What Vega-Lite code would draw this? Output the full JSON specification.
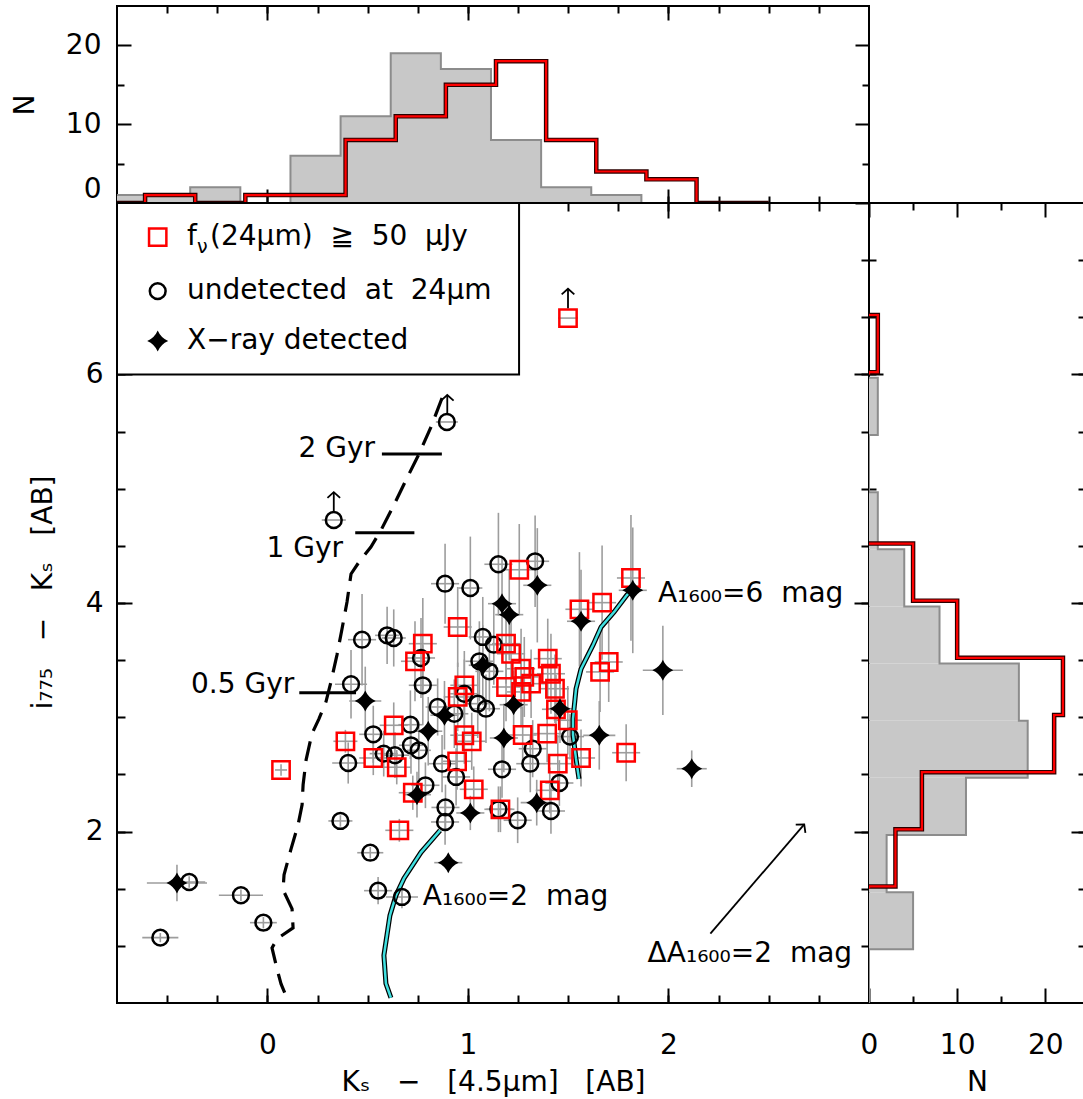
{
  "$schema": "https://vega.github.io/schema/vega-lite/v6.json",
  "padding": {"left": 10, "top": 4, "right": 0, "bottom": 0},
  "autosize": {"type": "pad"},
  "config": {
    "font": "DejaVu Sans",
    "view": {"stroke": "black", "strokeWidth": 2},
    "axis": {"grid": false, "domain": false, "tickColor": "black", "tickWidth": 2, "labelFontSize": 28, "labelColor": "black", "titleFontSize": 28, "titleFontWeight": "normal", "titleColor": "black"}
  },
  "datasets": {
    "pts": [
      {"t":"c","x":0.331,"y":4.726,"xe":0.06,"ye":0},
      {"t":"c","x":0.895,"y":5.584,"xe":0.055,"ye":0},
      {"t":"c","x":0.472,"y":3.679,"xe":0.07,"ye":0.4},
      {"t":"c","x":0.597,"y":3.717,"xe":0.06,"ye":0.25},
      {"t":"c","x":0.630,"y":3.694,"xe":0.06,"ye":0.25},
      {"t":"c","x":0.766,"y":3.519,"xe":0.07,"ye":0.35},
      {"t":"c","x":0.775,"y":3.280,"xe":0.07,"ye":0.35},
      {"t":"c","x":0.417,"y":3.289,"xe":0.08,"ye":0.3},
      {"t":"c","x":0.849,"y":3.090,"xe":0.06,"ye":0.25},
      {"t":"c","x":0.528,"y":2.851,"xe":0.07,"ye":0.25},
      {"t":"c","x":0.403,"y":2.600,"xe":0.08,"ye":0.18},
      {"t":"c","x":0.580,"y":2.682,"xe":0.07,"ye":0.2},
      {"t":"c","x":0.636,"y":2.668,"xe":0.07,"ye":0.2},
      {"t":"c","x":0.713,"y":2.935,"xe":0.06,"ye":0.3},
      {"t":"c","x":0.716,"y":2.755,"xe":0.06,"ye":0.25},
      {"t":"c","x":0.755,"y":2.711,"xe":0.06,"ye":0.25},
      {"t":"c","x":0.788,"y":2.405,"xe":0.07,"ye":0.2},
      {"t":"c","x":0.364,"y":2.093,"xe":0.06,"ye":0.05},
      {"t":"c","x":0.513,"y":1.815,"xe":0.065,"ye":0.05},
      {"t":"c","x":0.552,"y":1.483,"xe":0.07,"ye":0.12},
      {"t":"c","x":0.671,"y":1.428,"xe":0.08,"ye":0.1},
      {"t":"c","x":-0.132,"y":1.443,"xe":0.11,"ye":0.05},
      {"t":"c","x":-0.390,"y":1.559,"xe":0.08,"ye":0.05},
      {"t":"c","x":-0.020,"y":1.203,"xe":0.067,"ye":0.05},
      {"t":"c","x":-0.534,"y":1.072,"xe":0.09,"ye":0.04},
      {"t":"c","x":0.886,"y":4.169,"xe":0.07,"ye":0.35},
      {"t":"c","x":1.012,"y":4.131,"xe":0.06,"ye":0.45},
      {"t":"c","x":1.152,"y":4.339,"xe":0.07,"ye":0.45},
      {"t":"c","x":1.335,"y":4.365,"xe":0.07,"ye":0.4},
      {"t":"c","x":1.074,"y":3.703,"xe":0.07,"ye":0.35},
      {"t":"c","x":1.129,"y":3.635,"xe":0.07,"ye":0.35},
      {"t":"c","x":1.057,"y":3.490,"xe":0.07,"ye":0.35},
      {"t":"c","x":1.107,"y":3.402,"xe":0.07,"ye":0.35},
      {"t":"c","x":0.982,"y":3.206,"xe":0.07,"ye":0.3},
      {"t":"c","x":1.049,"y":3.119,"xe":0.07,"ye":0.3},
      {"t":"c","x":1.090,"y":3.075,"xe":0.07,"ye":0.3},
      {"t":"c","x":0.932,"y":3.031,"xe":0.07,"ye":0.3},
      {"t":"c","x":0.871,"y":2.594,"xe":0.07,"ye":0.25},
      {"t":"c","x":0.941,"y":2.478,"xe":0.07,"ye":0.25},
      {"t":"c","x":0.888,"y":2.211,"xe":0.07,"ye":0.2},
      {"t":"c","x":0.886,"y":2.084,"xe":0.07,"ye":0.2},
      {"t":"c","x":1.323,"y":2.725,"xe":0.07,"ye":0.25},
      {"t":"c","x":1.311,"y":2.594,"xe":0.07,"ye":0.25},
      {"t":"c","x":1.170,"y":2.545,"xe":0.07,"ye":0.25},
      {"t":"c","x":1.248,"y":2.099,"xe":0.07,"ye":0.2},
      {"t":"c","x":1.152,"y":2.195,"xe":0.07,"ye":0.2},
      {"t":"c","x":1.509,"y":2.831,"xe":0.07,"ye":0.2},
      {"t":"c","x":1.456,"y":2.425,"xe":0.07,"ye":0.2},
      {"t":"c","x":1.414,"y":2.180,"xe":0.07,"ye":0.2},
      {"t":"r","x":0.068,"y":2.539,"xe":0.03,"ye":0.05},
      {"t":"r","x":0.389,"y":2.790,"xe":0.06,"ye":0.1},
      {"t":"r","x":0.528,"y":2.644,"xe":0.07,"ye":0.15},
      {"t":"r","x":0.645,"y":2.563,"xe":0.07,"ye":0.15},
      {"t":"r","x":0.630,"y":2.930,"xe":0.07,"ye":0.2},
      {"t":"r","x":0.725,"y":2.340,"xe":0.07,"ye":0.15},
      {"t":"r","x":0.658,"y":2.011,"xe":0.07,"ye":0.1},
      {"t":"r","x":0.775,"y":3.644,"xe":0.07,"ye":0.4},
      {"t":"r","x":0.736,"y":3.490,"xe":0.07,"ye":0.35},
      {"t":"r","x":0.949,"y":3.790,"xe":0.07,"ye":0.35},
      {"t":"r","x":1.190,"y":3.644,"xe":0.07,"ye":0.35},
      {"t":"r","x":1.215,"y":3.556,"xe":0.07,"ye":0.35},
      {"t":"r","x":1.265,"y":3.425,"xe":0.07,"ye":0.35},
      {"t":"r","x":1.281,"y":3.353,"xe":0.07,"ye":0.35},
      {"t":"r","x":1.190,"y":3.265,"xe":0.07,"ye":0.3},
      {"t":"r","x":1.315,"y":3.294,"xe":0.07,"ye":0.3},
      {"t":"r","x":1.265,"y":3.222,"xe":0.07,"ye":0.3},
      {"t":"r","x":0.982,"y":3.280,"xe":0.07,"ye":0.3},
      {"t":"r","x":0.949,"y":3.178,"xe":0.07,"ye":0.3},
      {"t":"r","x":1.256,"y":4.291,"xe":0.07,"ye":0.4},
      {"t":"r","x":1.273,"y":2.845,"xe":0.07,"ye":0.25},
      {"t":"r","x":0.946,"y":2.615,"xe":0.07,"ye":0.25},
      {"t":"r","x":0.982,"y":2.843,"xe":0.07,"ye":0.25},
      {"t":"r","x":1.019,"y":2.790,"xe":0.07,"ye":0.25},
      {"t":"r","x":1.029,"y":2.370,"xe":0.07,"ye":0.2},
      {"t":"r","x":1.162,"y":2.195,"xe":0.07,"ye":0.2},
      {"t":"r","x":1.813,"y":4.219,"xe":0.07,"ye":0.55},
      {"t":"r","x":1.556,"y":3.945,"xe":0.07,"ye":0.5},
      {"t":"r","x":1.669,"y":4.003,"xe":0.07,"ye":0.5},
      {"t":"r","x":1.398,"y":3.513,"xe":0.07,"ye":0.35},
      {"t":"r","x":1.414,"y":3.381,"xe":0.07,"ye":0.35},
      {"t":"r","x":1.702,"y":3.484,"xe":0.07,"ye":0.35},
      {"t":"r","x":1.659,"y":3.397,"xe":0.07,"ye":0.35},
      {"t":"r","x":1.434,"y":3.250,"xe":0.07,"ye":0.3},
      {"t":"r","x":1.439,"y":3.070,"xe":0.07,"ye":0.3},
      {"t":"r","x":1.498,"y":2.974,"xe":0.07,"ye":0.3},
      {"t":"r","x":1.395,"y":2.857,"xe":0.07,"ye":0.25},
      {"t":"r","x":1.448,"y":2.594,"xe":0.07,"ye":0.25},
      {"t":"r","x":1.564,"y":2.644,"xe":0.07,"ye":0.25},
      {"t":"r","x":1.789,"y":2.690,"xe":0.07,"ye":0.25},
      {"t":"r","x":1.408,"y":2.361,"xe":0.07,"ye":0.2},
      {"t":"r","x":1.499,"y":6.493,"xe":0.05,"ye":0},
      {"t":"s","x":0.488,"y":3.143,"xe":0.08,"ye":0.3},
      {"t":"s","x":0.746,"y":2.323,"xe":0.07,"ye":0.2},
      {"t":"s","x":0.802,"y":2.878,"xe":0.07,"ye":0.3},
      {"t":"s","x":-0.451,"y":1.550,"xe":0.15,"ye":0.16},
      {"t":"s","x":0.902,"y":1.728,"xe":0.07,"ye":0.05},
      {"t":"s","x":1.346,"y":4.155,"xe":0.07,"ye":0.5},
      {"t":"s","x":1.170,"y":3.994,"xe":0.07,"ye":0.4},
      {"t":"s","x":1.206,"y":3.898,"xe":0.07,"ye":0.4},
      {"t":"s","x":1.074,"y":3.455,"xe":0.07,"ye":0.35},
      {"t":"s","x":1.228,"y":3.110,"xe":0.07,"ye":0.3},
      {"t":"s","x":0.883,"y":3.018,"xe":0.07,"ye":0.3},
      {"t":"s","x":1.179,"y":2.819,"xe":0.07,"ye":0.3},
      {"t":"s","x":1.343,"y":2.253,"xe":0.08,"ye":0.2},
      {"t":"s","x":1.012,"y":2.163,"xe":0.07,"ye":0.15},
      {"t":"s","x":1.822,"y":4.111,"xe":0.07,"ye":0.55},
      {"t":"s","x":1.564,"y":3.840,"xe":0.07,"ye":0.45},
      {"t":"s","x":1.972,"y":3.411,"xe":0.1,"ye":0.39},
      {"t":"s","x":1.459,"y":3.075,"xe":0.07,"ye":0.3},
      {"t":"s","x":1.655,"y":2.842,"xe":0.08,"ye":0.3},
      {"t":"s","x":2.116,"y":2.550,"xe":0.075,"ye":0.16}
    ],
    "track": [
      {"o":1,"x":0.871,"y":5.794},{"o":2,"x":0.816,"y":5.540},{"o":3,"x":0.756,"y":5.304},{"o":4,"x":0.691,"y":5.075},
      {"o":5,"x":0.626,"y":4.840},{"o":6,"x":0.567,"y":4.639},{"o":7,"x":0.516,"y":4.490},{"o":8,"x":0.457,"y":4.359},
      {"o":9,"x":0.417,"y":4.254},{"o":10,"x":0.397,"y":4.009},{"o":11,"x":0.372,"y":3.773},{"o":12,"x":0.347,"y":3.546},
      {"o":13,"x":0.317,"y":3.310},{"o":14,"x":0.292,"y":3.135},{"o":15,"x":0.257,"y":2.986},{"o":16,"x":0.222,"y":2.855},
      {"o":17,"x":0.193,"y":2.628},{"o":18,"x":0.178,"y":2.409},{"o":19,"x":0.173,"y":2.234},{"o":20,"x":0.153,"y":2.059},
      {"o":21,"x":0.118,"y":1.849},{"o":22,"x":0.083,"y":1.622},{"o":23,"x":0.078,"y":1.490},{"o":24,"x":0.123,"y":1.324},
      {"o":25,"x":0.128,"y":1.157},{"o":26,"x":0.048,"y":1.061},{"o":27,"x":0.023,"y":0.982},{"o":28,"x":0.048,"y":0.798},
      {"o":29,"x":0.068,"y":0.667},{"o":30,"x":0.103,"y":0.518}
    ],
    "av": [
      {"g":"a6","o":1,"x":1.818,"y":4.114},{"g":"a6","o":2,"x":1.793,"y":4.070},{"g":"a6","o":3,"x":1.729,"y":3.922},
      {"g":"a6","o":4,"x":1.664,"y":3.790},{"g":"a6","o":5,"x":1.624,"y":3.633},{"g":"a6","o":6,"x":1.564,"y":3.423},
      {"g":"a6","o":7,"x":1.539,"y":3.248},{"g":"a6","o":8,"x":1.524,"y":2.986},{"g":"a6","o":9,"x":1.524,"y":2.846},
      {"g":"a6","o":10,"x":1.539,"y":2.636},{"g":"a6","o":11,"x":1.554,"y":2.461},
      {"g":"a2","o":1,"x":0.861,"y":2.010},{"g":"a2","o":2,"x":0.766,"y":1.818},{"g":"a2","o":3,"x":0.681,"y":1.590},
      {"g":"a2","o":4,"x":0.641,"y":1.441},{"g":"a2","o":5,"x":0.611,"y":1.266},{"g":"a2","o":6,"x":0.596,"y":1.091},
      {"g":"a2","o":7,"x":0.581,"y":0.916},{"g":"a2","o":8,"x":0.591,"y":0.671},{"g":"a2","o":9,"x":0.616,"y":0.546}
    ],
    "ages": [
      {"x":0.571,"x2":0.870,"y":5.304},
      {"x":0.438,"x2":0.733,"y":4.615},
      {"x":0.159,"x2":0.442,"y":3.215}
    ],
    "labR": [
      {"x":0.537,"y":5.347,"s":"2 Gyr"},
      {"x":0.377,"y":4.472,"s":"1 Gyr"},
      {"x":0.134,"y":3.280,"s":"0.5 Gyr"}
    ],
    "labL": [
      {"x":1.948,"y":4.079,"s":"A₁₆₀₀=6\u00a0 mag"},
      {"x":0.775,"y":1.428,"s":"A₁₆₀₀=2\u00a0 mag"},
      {"x":1.896,"y":0.932,"s":"ΔA₁₆₀₀=2\u00a0 mag"},
      {"x":-0.401,"y":7.202,"s":"f"},
      {"x":-0.286,"y":7.202,"s":"(24μm)\u00a0 ≧\u00a0 50\u00a0 μJy"},
      {"x":-0.401,"y":6.729,"s":"undetected\u00a0 at\u00a0 24μm"},
      {"x":-0.401,"y":6.292,"s":"X−ray detected"}
    ],
    "labS": [{"x":-0.351,"y":7.115,"s":"ν"}],
    "legbox": [{"x":-0.75,"x2":1.255,"y":6.0,"y2":7.5}],
    "legsym": [
      {"t":"r","x":-0.547,"y":7.202},
      {"t":"c","x":-0.547,"y":6.729},
      {"t":"s","x":-0.547,"y":6.292}
    ],
    "shafts": [
      {"x":0.331,"y":4.80,"y2":4.97},
      {"x":0.897,"y":5.65,"y2":5.82},
      {"x":1.499,"y":6.58,"y2":6.75}
    ],
    "heads": [
      {"x":0.331,"y":4.97,"a":0},
      {"x":0.897,"y":5.82,"a":0},
      {"x":1.499,"y":6.75,"a":0},
      {"x":2.677,"y":2.063,"a":40}
    ],
    "darrow": [{"x":2.209,"y":1.107,"x2":2.677,"y2":2.063}],
    "topGray": [
      {"e":-0.885,"n":1},{"e":-0.635,"n":1},{"e":-0.385,"n":2},{"e":-0.135,"n":0},{"e":0.115,"n":6},
      {"e":0.365,"n":11},{"e":0.615,"n":19},{"e":0.865,"n":17},{"e":1.115,"n":8},{"e":1.365,"n":2},
      {"e":1.615,"n":1},{"e":1.865,"n":0}
    ],
    "topRed": [
      {"e":-0.86,"n":0},{"e":-0.61,"n":1},{"e":-0.36,"n":0},{"e":-0.11,"n":1},{"e":0.14,"n":1},
      {"e":0.39,"n":8},{"e":0.64,"n":11},{"e":0.89,"n":15},{"e":1.14,"n":18},{"e":1.39,"n":8},
      {"e":1.64,"n":4},{"e":1.89,"n":3},{"e":2.14,"n":0},{"e":2.5,"n":0}
    ],
    "rightGray": [
      {"e":0.5,"h":0.97,"n":0},{"e":0.97,"h":1.47,"n":5},{"e":1.47,"h":1.97,"n":2},{"e":1.97,"h":2.47,"n":11},
      {"e":2.47,"h":2.97,"n":18},{"e":2.97,"h":3.47,"n":17},{"e":3.47,"h":3.97,"n":8},{"e":3.97,"h":4.47,"n":4},
      {"e":4.47,"h":4.97,"n":1},{"e":4.97,"h":5.47,"n":0},{"e":5.47,"h":5.97,"n":1},{"e":5.97,"h":5.97,"n":0}
    ],
    "rightRed": [
      {"g":"a","e":1.5,"n":0},{"g":"a","e":1.52,"n":3},{"g":"a","e":2.02,"n":6},{"g":"a","e":2.52,"n":21},
      {"g":"a","e":3.02,"n":22},{"g":"a","e":3.52,"n":10},{"g":"a","e":4.02,"n":5},{"g":"a","e":4.52,"n":0},
      {"g":"b","e":6.0,"n":0},{"g":"b","e":6.02,"n":1},{"g":"b","e":6.52,"n":0}
    ]
  },
  "spacing": 0,
  "bounds": "flush",
  "vconcat": [
    {
      "width": 752,
      "height": 197,
      "resolve": {"axis": {"x": "independent", "y": "independent"}},
      "layer": [
        {
          "data": {"name": "topGray"},
          "mark": {"type": "area", "interpolate": "step-after", "color": "#c8c8c8", "opacity": 1, "clip": true},
          "encoding": {
            "x": {"field": "e", "type": "quantitative", "scale": {"domain": [-0.75, 3], "nice": false, "zero": false}, "axis": {"orient": "bottom", "values": [0, 1, 2], "tickSize": -14, "labels": false, "title": null}},
            "y": {"field": "n", "type": "quantitative", "scale": {"domain": [0, 25], "nice": false}, "axis": {"orient": "left", "values": [0, 10, 20], "tickSize": -14, "labelPadding": 30, "labelFlush": true, "title": "N", "titlePadding": 26}}
          }
        },
        {
          "data": {"name": "topGray"},
          "mark": {"type": "line", "interpolate": "step-after", "color": "#8c8c8c", "strokeWidth": 2, "clip": true},
          "encoding": {
            "x": {"field": "e", "type": "quantitative", "scale": {"domain": [-0.75, 3], "nice": false, "zero": false}, "axis": {"orient": "bottom", "values": [-0.5,-0.25,0,0.25,0.5,0.75,1,1.25,1.5,1.75,2,2.25,2.5,2.75], "tickSize": -7, "labels": false, "title": null}},
            "y": {"field": "n", "type": "quantitative", "scale": {"domain": [0, 25], "nice": false}, "axis": {"orient": "left", "values": [5, 15], "tickSize": -7, "labels": false, "title": null}}
          }
        },
        {
          "data": {"name": "topRed"},
          "mark": {"type": "line", "interpolate": "step-after", "color": "#2a0000", "strokeWidth": 4.5, "clip": true},
          "encoding": {
            "x": {"field": "e", "type": "quantitative", "scale": {"domain": [-0.75, 3], "nice": false, "zero": false}, "axis": {"orient": "top", "values": [0, 1, 2], "tickSize": -14, "labels": false, "title": null}},
            "y": {"field": "n", "type": "quantitative", "scale": {"domain": [0, 25], "nice": false}, "axis": {"orient": "right", "values": [0, 10, 20], "tickSize": -14, "labels": false, "title": null}}
          }
        },
        {
          "data": {"name": "topRed"},
          "mark": {"type": "line", "interpolate": "step-after", "color": "#ff0000", "strokeWidth": 2.2, "clip": true},
          "encoding": {
            "x": {"field": "e", "type": "quantitative", "scale": {"domain": [-0.75, 3], "nice": false, "zero": false}, "axis": {"orient": "top", "values": [-0.5,-0.25,0,0.25,0.5,0.75,1,1.25,1.5,1.75,2,2.25,2.5,2.75], "tickSize": -7, "labels": false, "title": null}},
            "y": {"field": "n", "type": "quantitative", "scale": {"domain": [0, 25], "nice": false}, "axis": {"orient": "right", "values": [5, 15], "tickSize": -7, "labels": false, "title": null}}
          }
        }
      ]
    },
    {
      "spacing": 0,
      "bounds": "flush",
      "hconcat": [
        {
          "width": 752,
          "height": 800,
          "resolve": {"axis": {"x": "independent", "y": "independent"}},
          "layer": [
            {
              "data": {"name": "legbox"},
              "mark": {"type": "rect", "fill": "white", "stroke": "black", "strokeWidth": 2},
              "encoding": {
                "x": {"field": "x", "type": "quantitative", "scale": {"domain": [-0.75, 3], "nice": false, "zero": false}, "axis": null},
                "x2": {"field": "x2"},
                "y": {"field": "y", "type": "quantitative", "scale": {"domain": [0.5, 7.5], "nice": false, "zero": false}, "axis": null},
                "y2": {"field": "y2"}
              }
            },
            {
              "data": {"name": "pts"},
              "mark": {"type": "errorbar", "color": "#9d9d9d", "thickness": 1.6},
              "encoding": {
                "x": {"field": "x", "type": "quantitative", "scale": {"domain": [-0.75, 3], "nice": false, "zero": false}, "axis": null},
                "xError": {"field": "xe"},
                "y": {"field": "y", "type": "quantitative", "scale": {"domain": [0.5, 7.5], "nice": false, "zero": false}, "axis": null}
              }
            },
            {
              "data": {"name": "pts"},
              "mark": {"type": "errorbar", "color": "#9d9d9d", "thickness": 1.6},
              "encoding": {
                "y": {"field": "y", "type": "quantitative", "scale": {"domain": [0.5, 7.5], "nice": false, "zero": false}, "axis": null},
                "yError": {"field": "ye"},
                "x": {"field": "x", "type": "quantitative", "scale": {"domain": [-0.75, 3], "nice": false, "zero": false}, "axis": null}
              }
            },
            {
              "data": {"name": "track"},
              "mark": {"type": "line", "color": "black", "strokeWidth": 3.2, "strokeDash": [20, 11], "clip": true},
              "encoding": {
                "x": {"field": "x", "type": "quantitative", "scale": {"domain": [-0.75, 3], "nice": false, "zero": false}, "axis": {"orient": "top", "values": [0, 1, 2], "tickSize": -15, "labels": false, "title": null}},
                "y": {"field": "y", "type": "quantitative", "scale": {"domain": [0.5, 7.5], "nice": false, "zero": false}, "axis": {"orient": "right", "values": [2, 4, 6], "tickSize": -15, "labels": false, "title": null}},
                "order": {"field": "o"}
              }
            },
            {
              "data": {"name": "ages"},
              "mark": {"type": "rule", "color": "black", "strokeWidth": 3},
              "encoding": {
                "x": {"field": "x", "type": "quantitative", "scale": {"domain": [-0.75, 3], "nice": false, "zero": false}, "axis": null},
                "x2": {"field": "x2"},
                "y": {"field": "y", "type": "quantitative", "scale": {"domain": [0.5, 7.5], "nice": false, "zero": false}, "axis": null}
              }
            },
            {
              "data": {"name": "av"},
              "mark": {"type": "line", "color": "black", "strokeWidth": 5, "clip": true},
              "encoding": {
                "x": {"field": "x", "type": "quantitative", "scale": {"domain": [-0.75, 3], "nice": false, "zero": false}, "axis": {"orient": "top", "values": [-0.5,-0.25,0,0.25,0.5,0.75,1,1.25,1.5,1.75,2,2.25,2.5,2.75], "tickSize": -8, "labels": false, "title": null}},
                "y": {"field": "y", "type": "quantitative", "scale": {"domain": [0.5, 7.5], "nice": false, "zero": false}, "axis": {"orient": "right", "values": [1,1.5,2,2.5,3,3.5,4,4.5,5,5.5,6,6.5,7], "tickSize": -8, "labels": false, "title": null}},
                "detail": {"field": "g"},
                "order": {"field": "o"}
              }
            },
            {
              "data": {"name": "av"},
              "mark": {"type": "line", "color": "#40e0e0", "strokeWidth": 2.5, "clip": true},
              "encoding": {
                "x": {"field": "x", "type": "quantitative", "scale": {"domain": [-0.75, 3], "nice": false, "zero": false}, "axis": null},
                "y": {"field": "y", "type": "quantitative", "scale": {"domain": [0.5, 7.5], "nice": false, "zero": false}, "axis": null},
                "detail": {"field": "g"},
                "order": {"field": "o"}
              }
            },
            {
              "data": {"name": "pts"},
              "transform": [{"filter": "datum.t != 's'"}],
              "mark": {"type": "point", "filled": false, "opacity": 1, "strokeWidth": 2.5},
              "encoding": {
                "x": {"field": "x", "type": "quantitative", "scale": {"domain": [-0.75, 3], "nice": false, "zero": false}, "axis": {"orient": "bottom", "values": [0, 1, 2], "tickSize": -15, "labelPadding": 43, "title": "Kₛ\u00a0\u00a0 −\u00a0\u00a0 [4.5μm]\u00a0\u00a0 [AB]", "titlePadding": 9}},
                "y": {"field": "y", "type": "quantitative", "scale": {"domain": [0.5, 7.5], "nice": false, "zero": false}, "axis": {"orient": "left", "values": [2, 4, 6], "tickSize": -15, "labelPadding": 29, "title": "i₇₇₅\u00a0\u00a0 −\u00a0\u00a0 Kₛ\u00a0\u00a0 [AB]", "titleX": -60, "titleY": 389}},
                "shape": {"field": "t", "type": "nominal", "scale": {"domain": ["c", "r"], "range": ["circle", "square"]}, "legend": null},
                "stroke": {"field": "t", "type": "nominal", "scale": {"domain": ["c", "r"], "range": ["#000000", "#ff0000"]}, "legend": null},
                "size": {"field": "t", "type": "nominal", "scale": {"domain": ["c", "r"], "range": [250, 300]}, "legend": null}
              }
            },
            {
              "data": {"name": "pts"},
              "transform": [{"filter": "datum.t == 's'"}],
              "mark": {"type": "point", "filled": true, "opacity": 1, "color": "black", "size": 440, "shape": "M0,-1Q0.3,-0.3,1,0Q0.3,0.3,0,1Q-0.3,0.3,-1,0Q-0.3,-0.3,0,-1Z"},
              "encoding": {
                "x": {"field": "x", "type": "quantitative", "scale": {"domain": [-0.75, 3], "nice": false, "zero": false}, "axis": null},
                "y": {"field": "y", "type": "quantitative", "scale": {"domain": [0.5, 7.5], "nice": false, "zero": false}, "axis": null}
              }
            },
            {
              "data": {"name": "legsym"},
              "transform": [{"filter": "datum.t != 's'"}],
              "mark": {"type": "point", "filled": false, "opacity": 1, "strokeWidth": 2.5},
              "encoding": {
                "x": {"field": "x", "type": "quantitative", "scale": {"domain": [-0.75, 3], "nice": false, "zero": false}, "axis": {"orient": "bottom", "values": [-0.5,-0.25,0,0.25,0.5,0.75,1,1.25,1.5,1.75,2,2.25,2.5,2.75], "tickSize": -8, "labels": false, "title": null}},
                "y": {"field": "y", "type": "quantitative", "scale": {"domain": [0.5, 7.5], "nice": false, "zero": false}, "axis": {"orient": "left", "values": [1,1.5,2,2.5,3,3.5,4,4.5,5,5.5,6,6.5,7], "tickSize": -8, "labels": false, "title": null}},
                "shape": {"field": "t", "type": "nominal", "scale": {"domain": ["c", "r"], "range": ["circle", "square"]}, "legend": null},
                "stroke": {"field": "t", "type": "nominal", "scale": {"domain": ["c", "r"], "range": ["#000000", "#ff0000"]}, "legend": null},
                "size": {"field": "t", "type": "nominal", "scale": {"domain": ["c", "r"], "range": [250, 300]}, "legend": null}
              }
            },
            {
              "data": {"name": "legsym"},
              "transform": [{"filter": "datum.t == 's'"}],
              "mark": {"type": "point", "filled": true, "opacity": 1, "color": "black", "size": 440, "shape": "M0,-1Q0.3,-0.3,1,0Q0.3,0.3,0,1Q-0.3,0.3,-1,0Q-0.3,-0.3,0,-1Z"},
              "encoding": {
                "x": {"field": "x", "type": "quantitative", "scale": {"domain": [-0.75, 3], "nice": false, "zero": false}, "axis": null},
                "y": {"field": "y", "type": "quantitative", "scale": {"domain": [0.5, 7.5], "nice": false, "zero": false}, "axis": null}
              }
            },
            {
              "data": {"name": "shafts"},
              "mark": {"type": "rule", "color": "black", "strokeWidth": 1.8},
              "encoding": {
                "x": {"field": "x", "type": "quantitative", "scale": {"domain": [-0.75, 3], "nice": false, "zero": false}, "axis": null},
                "y": {"field": "y", "type": "quantitative", "scale": {"domain": [0.5, 7.5], "nice": false, "zero": false}, "axis": null},
                "y2": {"field": "y2"}
              }
            },
            {
              "data": {"name": "darrow"},
              "mark": {"type": "rule", "color": "black", "strokeWidth": 1.8},
              "encoding": {
                "x": {"field": "x", "type": "quantitative", "scale": {"domain": [-0.75, 3], "nice": false, "zero": false}, "axis": null},
                "x2": {"field": "x2"},
                "y": {"field": "y", "type": "quantitative", "scale": {"domain": [0.5, 7.5], "nice": false, "zero": false}, "axis": null},
                "y2": {"field": "y2"}
              }
            },
            {
              "data": {"name": "heads"},
              "mark": {"type": "point", "shape": "M-1,0.9L0,0L1,0.9", "filled": false, "opacity": 1, "stroke": "black", "strokeWidth": 1.8, "size": 160},
              "encoding": {
                "x": {"field": "x", "type": "quantitative", "scale": {"domain": [-0.75, 3], "nice": false, "zero": false}, "axis": null},
                "y": {"field": "y", "type": "quantitative", "scale": {"domain": [0.5, 7.5], "nice": false, "zero": false}, "axis": null},
                "angle": {"field": "a", "type": "quantitative", "scale": null}
              }
            },
            {
              "data": {"name": "labR"},
              "mark": {"type": "text", "align": "right", "baseline": "middle", "fontSize": 28, "color": "black"},
              "encoding": {
                "x": {"field": "x", "type": "quantitative", "scale": {"domain": [-0.75, 3], "nice": false, "zero": false}, "axis": null},
                "y": {"field": "y", "type": "quantitative", "scale": {"domain": [0.5, 7.5], "nice": false, "zero": false}, "axis": null},
                "text": {"field": "s"}
              }
            },
            {
              "data": {"name": "labL"},
              "mark": {"type": "text", "align": "left", "baseline": "middle", "fontSize": 28, "color": "black"},
              "encoding": {
                "x": {"field": "x", "type": "quantitative", "scale": {"domain": [-0.75, 3], "nice": false, "zero": false}, "axis": null},
                "y": {"field": "y", "type": "quantitative", "scale": {"domain": [0.5, 7.5], "nice": false, "zero": false}, "axis": null},
                "text": {"field": "s"}
              }
            },
            {
              "data": {"name": "labS"},
              "mark": {"type": "text", "align": "left", "baseline": "middle", "fontSize": 19, "color": "black"},
              "encoding": {
                "x": {"field": "x", "type": "quantitative", "scale": {"domain": [-0.75, 3], "nice": false, "zero": false}, "axis": null},
                "y": {"field": "y", "type": "quantitative", "scale": {"domain": [0.5, 7.5], "nice": false, "zero": false}, "axis": null},
                "text": {"field": "s"}
              }
            }
          ]
        },
        {
          "width": 216,
          "height": 800,
          "resolve": {"axis": {"x": "independent", "y": "independent"}},
          "layer": [
            {
              "data": {"name": "rightGray"},
              "mark": {"type": "rect", "color": "#c8c8c8", "opacity": 1},
              "encoding": {
                "x": {"field": "n", "type": "quantitative", "scale": {"domain": [0, 24.5], "nice": false}, "axis": {"orient": "bottom", "values": [0, 10, 20], "tickSize": -15, "labelPadding": 43, "labelFlush": false, "title": "N", "titlePadding": 9}},
                "x2": {"datum": 0},
                "y": {"field": "e", "type": "quantitative", "scale": {"domain": [0.5, 7.5], "nice": false, "zero": false}, "axis": {"orient": "left", "values": [2, 4, 6], "tickSize": -14, "labels": false, "title": null}},
                "y2": {"field": "h"}
              }
            },
            {
              "data": {"name": "rightGray"},
              "mark": {"type": "line", "interpolate": "step-before", "color": "#8c8c8c", "strokeWidth": 2, "clip": true},
              "encoding": {
                "x": {"field": "n", "type": "quantitative", "scale": {"domain": [0, 24.5], "nice": false}, "axis": {"orient": "bottom", "values": [5, 15], "tickSize": -7, "labels": false, "title": null}},
                "y": {"field": "e", "type": "quantitative", "scale": {"domain": [0.5, 7.5], "nice": false, "zero": false}, "axis": {"orient": "left", "values": [1,1.5,2,2.5,3,3.5,4,4.5,5,5.5,6,6.5,7], "tickSize": -7, "labels": false, "title": null}},
                "order": {"field": "e"}
              }
            },
            {
              "data": {"name": "rightRed"},
              "mark": {"type": "line", "interpolate": "step-before", "color": "#2a0000", "strokeWidth": 4.5, "clip": true},
              "encoding": {
                "x": {"field": "n", "type": "quantitative", "scale": {"domain": [0, 24.5], "nice": false}, "axis": {"orient": "top", "values": [0, 10, 20], "tickSize": -14, "labels": false, "title": null}},
                "y": {"field": "e", "type": "quantitative", "scale": {"domain": [0.5, 7.5], "nice": false, "zero": false}, "axis": {"orient": "right", "values": [2, 4, 6], "tickSize": -14, "labels": false, "title": null}},
                "detail": {"field": "g"},
                "order": {"field": "e"}
              }
            },
            {
              "data": {"name": "rightRed"},
              "mark": {"type": "line", "interpolate": "step-before", "color": "#ff0000", "strokeWidth": 2.2, "clip": true},
              "encoding": {
                "x": {"field": "n", "type": "quantitative", "scale": {"domain": [0, 24.5], "nice": false}, "axis": {"orient": "top", "values": [5, 15], "tickSize": -7, "labels": false, "title": null}},
                "y": {"field": "e", "type": "quantitative", "scale": {"domain": [0.5, 7.5], "nice": false, "zero": false}, "axis": {"orient": "right", "values": [1,1.5,2,2.5,3,3.5,4,4.5,5,5.5,6,6.5,7], "tickSize": -7, "labels": false, "title": null}},
                "detail": {"field": "g"},
                "order": {"field": "e"}
              }
            }
          ]
        }
      ]
    }
  ]
}
